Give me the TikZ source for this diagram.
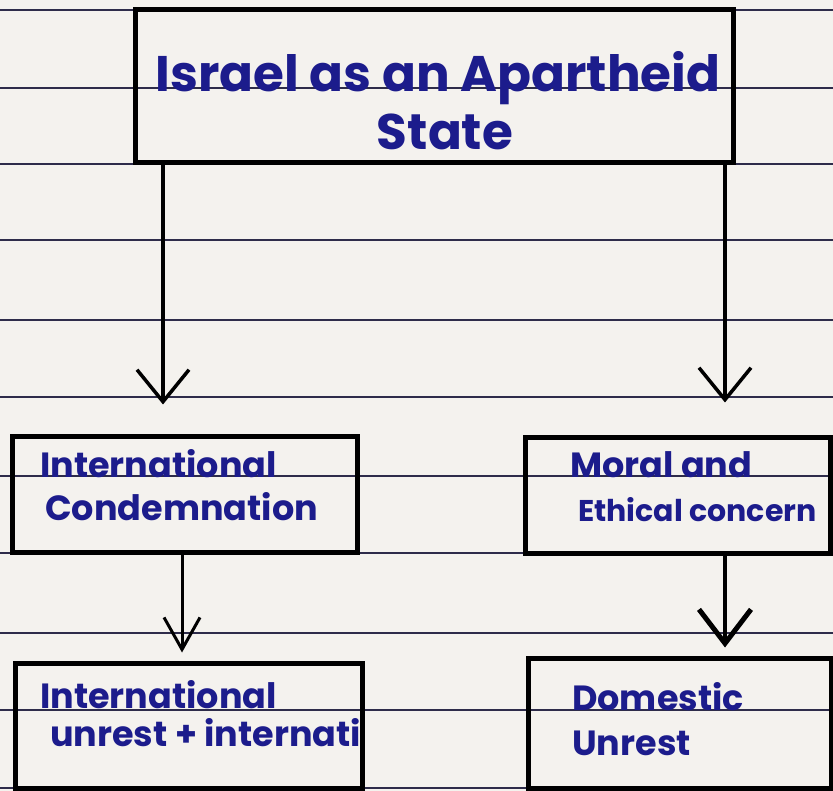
\documentclass[tikz,border=0pt]{standalone}
\usepackage{fontspec}
\setmainfont{Poppins}
\usetikzlibrary{arrows.meta}
\definecolor{paper}{HTML}{F4F2EE}
\definecolor{rule}{HTML}{2E2C4A}
\definecolor{ink}{HTML}{1C1C8C}
\begin{document}
\begin{tikzpicture}[x=1pt,y=-1pt,
  box/.style={draw=black,line width=5pt,minimum width=#1,inner sep=0pt},
  txt/.style={text=ink,anchor=base west,inner sep=0pt,font=\fontsize{35}{35}\selectfont\bfseries},
  bigtxt/.style={text=ink,anchor=base,inner sep=0pt,font=\fontsize{50}{50}\selectfont\bfseries},
  arr/.style={draw=black,line width=3.5pt,-{Straight Barb[length=32pt,width=52pt,line width=3.5pt]}},
  arrthick/.style={draw=black,line width=4pt,-{Straight Barb[length=34pt,width=52pt,line width=5pt]}},
  arrsmall/.style={draw=black,line width=3pt,-{Straight Barb[length=32pt,width=36pt,line width=3pt]}}
]
\useasboundingbox (0,0) rectangle (833,791);
\fill[paper] (0,0) rectangle (833,791);
% ruled lines of the paper
\foreach \y in {10,88,164,240,320,397,476,553,633,710,788}
  \draw[rule,line width=1.3pt] (0,\y) -- (833,\y);

% boxes
\node[box=598pt,minimum height=153pt] (top) at (434,86.5) {};
\node[box=345pt,minimum height=115pt] (lm) at (184.5,494.5) {};
\node[box=305pt,minimum height=115pt] (rm) at (677.5,495.5) {};
\node[box=347pt,minimum height=125pt] (bl) at (188.5,725.5) {};
\node[box=303pt,minimum height=130pt] (br) at (679.5,723) {};

% texts
\node[bigtxt] (t1) at (438,92) {Israel as an Apartheid};
\node[bigtxt] (t2) at (445,150) {State};
\node[txt] (l1) at (40,478) {International};
\node[txt] (l2) at (45,520) {Condemnation};
\node[txt] (r1) at (570,478) {Moral and};
\node[txt,font=\fontsize{30}{30}\selectfont\bfseries] (r2) at (578,521) {Ethical concern};
\node[txt] (b1) at (40,708) {International};
\begin{scope}
  \clip (15,665) rectangle (358,786);
  \node[txt] (b2) at (50,746) {unrest + international};
\end{scope}
\node[txt] (d1) at (572,710) {Domestic};
\node[txt] (d2) at (572,755) {Unrest};

% connectors
\draw[arr] ([xshift=-271pt]top.south) -- ([xshift=-21.5pt,yshift=30pt]lm.north);
\draw[arr] ([xshift=291pt]top.south) -- ([xshift=47.5pt,yshift=33pt]rm.north);
\draw[arrsmall] ([xshift=-2.5pt]lm.south) -- ([xshift=-6.5pt,yshift=8pt]bl.north);
\draw[arrthick] ([xshift=47.5pt]rm.south) -- ([xshift=45.5pt,yshift=8pt]br.north);
\end{tikzpicture}
\end{document}
